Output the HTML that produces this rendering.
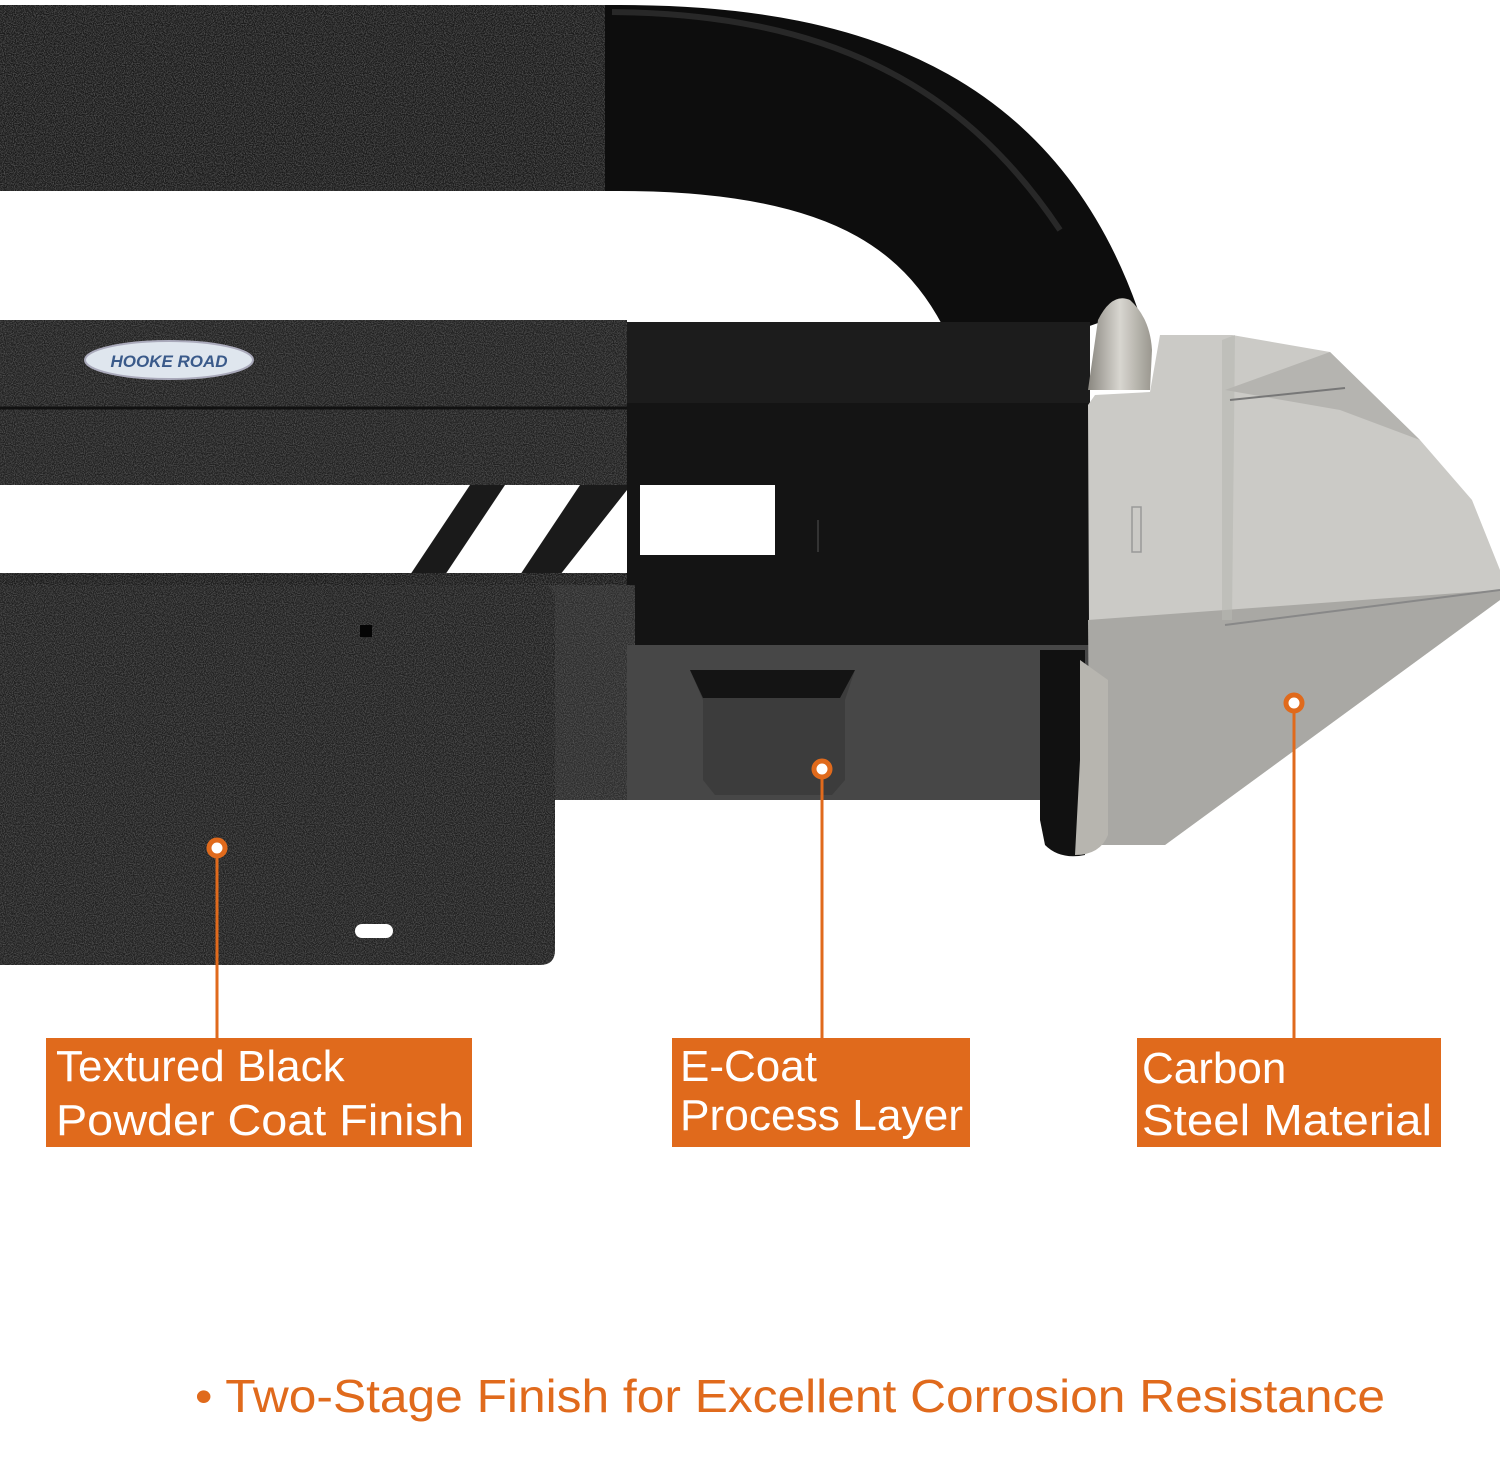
<!DOCTYPE html>
<html><head><meta charset="utf-8">
<style>
html,body{margin:0;padding:0;background:#fff;}
svg{display:block;}
</style></head>
<body>
<svg width="1500" height="1458" viewBox="0 0 1500 1458" xmlns="http://www.w3.org/2000/svg">
<defs>
<filter id="tex" x="0" y="0" width="100%" height="100%">
<feTurbulence type="fractalNoise" baseFrequency="0.9" numOctaves="2" seed="3" result="n"/>
<feColorMatrix in="n" type="matrix" values="0 0 0 0 0.2  0 0 0 0 0.2  0 0 0 0 0.2  0 0 0 0.9 -0.35" result="m"/>
<feComposite in="m" in2="SourceGraphic" operator="in" result="c"/>
<feMerge><feMergeNode in="SourceGraphic"/><feMergeNode in="c"/></feMerge>
</filter>
<linearGradient id="collar" x1="0" y1="0" x2="1" y2="0">
<stop offset="0" stop-color="#8a8780"/><stop offset="0.5" stop-color="#d8d6d0"/><stop offset="1" stop-color="#9a978f"/>
</linearGradient>
</defs>

<path d="M0 98 L620 98 C 860 98, 990 170, 1050 340" fill="none" stroke="#0d0d0d" stroke-width="186"/>
<rect x="0" y="5" width="605" height="186" fill="#1b1b1b" filter="url(#tex)"/>
<path d="M612 12 C 820 14, 960 80, 1060 230" fill="none" stroke="#3a3a3a" stroke-width="6" opacity="0.6"/>

<rect x="0" y="320" width="627" height="165" fill="#222" filter="url(#tex)"/>
<line x1="0" y1="408" x2="627" y2="408" stroke="#111" stroke-width="3"/>
<ellipse cx="169" cy="360" rx="84" ry="19" fill="#dfe6ee" stroke="#aab" stroke-width="2"/>
<text x="169" y="367" font-family="Liberation Sans, sans-serif" font-size="17" font-weight="bold" font-style="italic" fill="#3a5a8a" text-anchor="middle">HOOKE ROAD</text>

<rect x="627" y="322" width="463" height="83" fill="#1c1c1c"/>
<rect x="627" y="403" width="463" height="242" fill="#141414"/>
<rect x="640" y="485" width="135" height="70" fill="#fff"/>
<rect x="817" y="520" width="2" height="32" fill="#333"/>

<rect x="0" y="485" width="627" height="90" fill="#fff"/>
<polygon points="410,575 470,485 505,485 445,575" fill="#1a1a1a"/>
<polygon points="520,575 580,485 627,485 627,490 560,575" fill="#1a1a1a"/>
<rect x="0" y="573" width="627" height="18" fill="#1e1e1e" filter="url(#tex)"/>

<rect x="525" y="585" width="110" height="215" fill="#2e2e2e" filter="url(#tex)"/>

<rect x="627" y="645" width="463" height="155" fill="#474747"/>
<polygon points="690,670 855,670 845,700 845,780 832,795 715,795 703,780 703,700" fill="#3c3c3c"/>
<polygon points="690,670 855,670 840,698 703,698" fill="#141414"/>

<path d="M1088 390 L1098 320 Q1112 292 1130 300 Q1150 318 1152 350 L1150 390 Z" fill="url(#collar)"/>

<polygon points="1088,405 1095,395 1150,392 1160,335 1232,335 1330,352 1420,440 1472,500 1500,570 1500,600 1165,845 1090,845" fill="#cbcac6"/>
<polygon points="1088,620 1500,590 1500,600 1165,845 1090,845" fill="#a9a8a4"/>
<polygon points="1222,340 1235,335 1232,620 1222,620" fill="#b8b7b3" opacity="0.6"/>
<polygon points="1225,390 1330,352 1420,440 1340,410" fill="#b5b4b0"/>
<line x1="1230" y1="400" x2="1345" y2="388" stroke="#777" stroke-width="2"/>
<line x1="1225" y1="625" x2="1500" y2="590" stroke="#888" stroke-width="2"/>
<rect x="1132" y="507" width="9" height="45" fill="none" stroke="#999" stroke-width="1.5"/>

<path d="M1040 650 L1085 650 L1085 855 Q1060 860 1045 845 L1040 820 Z" fill="#111"/>
<path d="M1080 660 L1108 680 L1108 835 Q1100 855 1075 855 L1080 760 Z" fill="#b7b5af"/>

<path d="M0 585 L540 585 Q555 585 555 600 L555 950 Q555 965 540 965 L0 965 Z" fill="#232323" filter="url(#tex)"/>
<rect x="360" y="625" width="12" height="12" fill="#050505"/>
<rect x="355" y="924" width="38" height="14" rx="7" fill="#fff"/>

<g stroke="#e06a1c" stroke-width="3">
<line x1="217" y1="855" x2="217" y2="1040"/>
<line x1="822" y1="775" x2="822" y2="1040"/>
<line x1="1294" y1="710" x2="1294" y2="1040"/>
</g>
<g fill="#fff" stroke="#e06a1c" stroke-width="5">
<circle cx="217" cy="848" r="8"/>
<circle cx="822" cy="769" r="8"/>
<circle cx="1294" cy="703" r="8"/>
</g>
<rect x="46" y="1038" width="426" height="109" fill="#e06a1c"/>
<rect x="672" y="1038" width="298" height="109" fill="#e06a1c"/>
<rect x="1137" y="1038" width="304" height="109" fill="#e06a1c"/>
<g font-family="Liberation Sans, sans-serif" font-size="44" fill="#fff">
<text x="56" y="1081">Textured Black</text>
<text x="56" y="1135" textLength="408" lengthAdjust="spacingAndGlyphs">Powder Coat Finish</text>
<text x="680" y="1081">E-Coat</text>
<text x="680" y="1130" textLength="283" lengthAdjust="spacingAndGlyphs">Process Layer</text>
<text x="1142" y="1083">Carbon</text>
<text x="1142" y="1135" textLength="290" lengthAdjust="spacingAndGlyphs">Steel Material</text>
</g>
<text x="195" y="1412" font-family="Liberation Sans, sans-serif" font-size="46" fill="#e06a1c" textLength="1190" lengthAdjust="spacingAndGlyphs">• Two-Stage Finish for Excellent Corrosion Resistance</text>
</svg>
</body></html>
